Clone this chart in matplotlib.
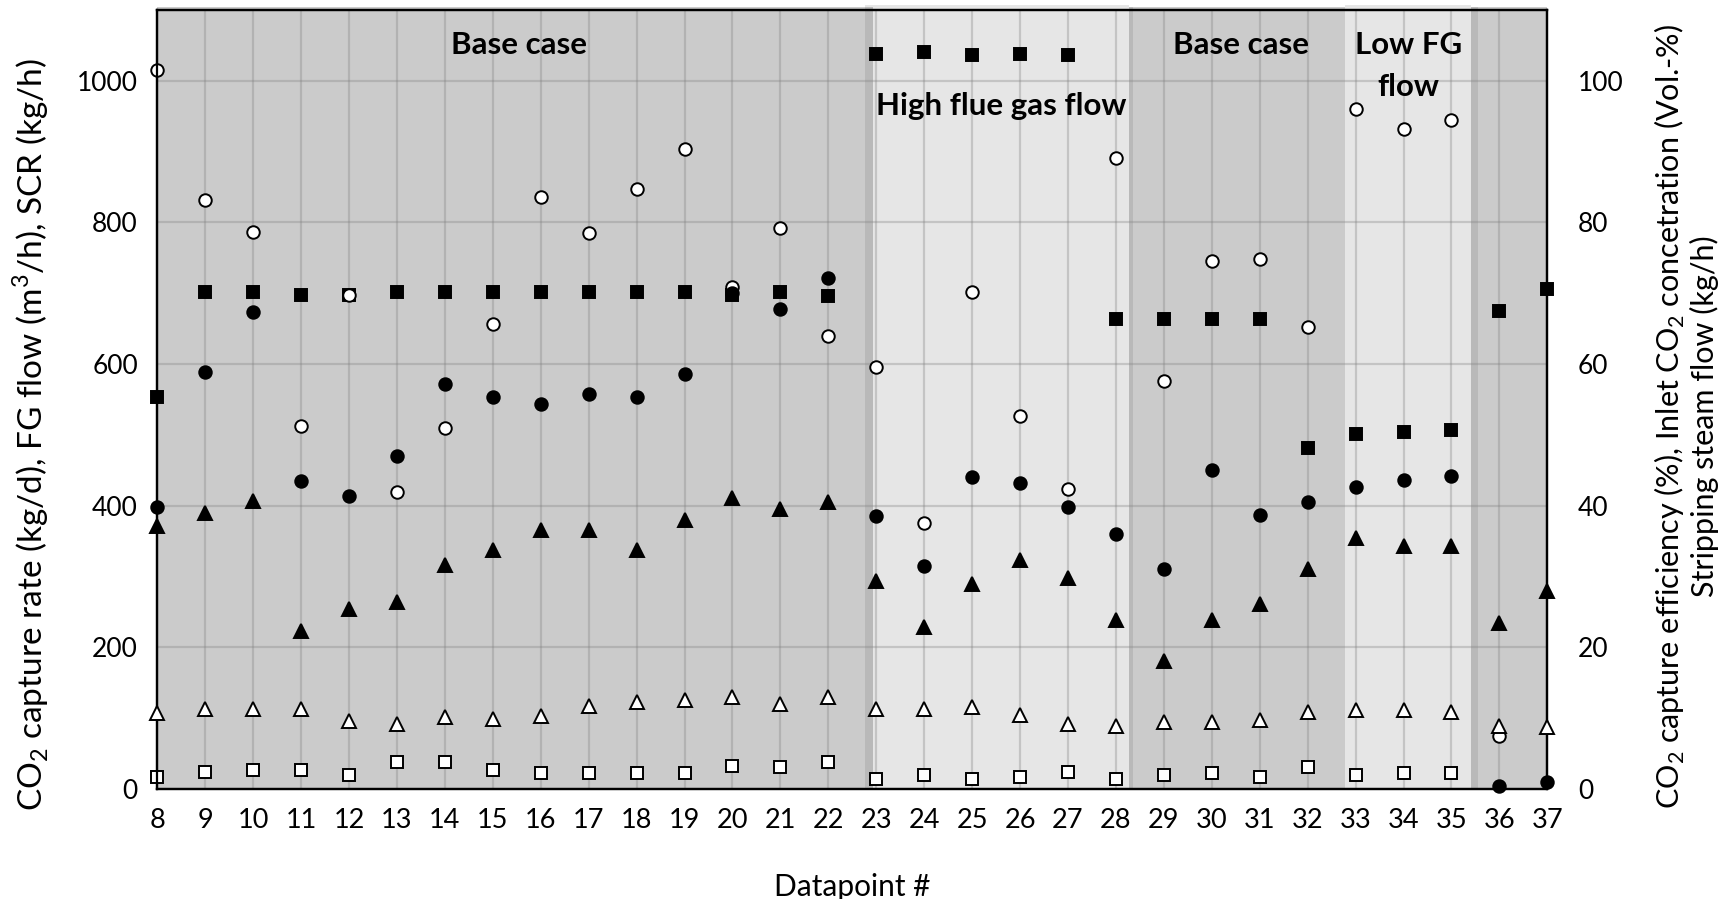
import numpy as np
import matplotlib
matplotlib.use("Agg")
import matplotlib.pyplot as plt

plt.rcParams['font.family'] = ['Lato', 'DejaVu Sans']
plt.rcParams['mathtext.fontset'] = 'custom'
plt.rcParams['mathtext.rm'] = 'Lato'

# ---------------- data ----------------
datapoints = list(range(8, 38))

# left axis series
capture_rate = [1015, 831, 787, 512, 697, 419, 509, 657, 836, 785, 847, 903, 709, 792, 639,
                595, 375, 701, 527, 424, 891, 576, 746, 748, 652, 960, 932, 945, 75, np.nan]
fg_flow = [554, 701, 701, 698, 698, 701, 701, 701, 701, 701, 701, 701, 698, 701, 696,
           1038, 1040, 1036, 1038, 1036, 663, 663, 663, 663, 481, 501, 504, 507, 675, 706]
scr = [17, 24, 27, 27, 19, 37, 37, 27, 22, 22, 22, 22, 32, 30, 37,
       14, 20, 14, 17, 23, 14, 20, 22, 17, 30, 20, 22, 22, np.nan, np.nan]

# right axis series
capture_eff = [39.8, 58.9, 67.3, 43.4, 41.4, 47.0, 57.1, 55.3, 54.3, 55.8, 55.3, 58.6, 70.0, 67.7, 72.2,
               38.5, 31.5, 44.0, 43.2, 39.8, 36.0, 31.0, 45.0, 38.7, 40.5, 42.6, 43.6, 44.2, 0.4, 0.9]
inlet_co2 = [10.7, 11.2, 11.2, 11.2, 9.6, 9.1, 10.1, 9.9, 10.2, 11.7, 12.2, 12.5, 13.0, 12.0, 13.0,
             11.3, 11.3, 11.5, 10.4, 9.2, 8.9, 9.4, 9.4, 9.7, 10.8, 11.1, 11.1, 10.8, 8.9, 8.7]
steam_flow = [37.1, 38.9, 40.7, 22.3, 25.4, 26.4, 31.6, 33.7, 36.6, 36.6, 33.7, 38.0, 41.0, 39.5, 40.5,
              29.4, 22.9, 28.9, 32.3, 29.7, 23.8, 18.0, 23.8, 26.1, 31.0, 35.4, 34.3, 34.3, 23.4, 27.9]

# shaded regions (x-ranges, in datapoint units)
dark_regions = [(8, 22.77), (28.27, 32.78), (35.41, 37)]
light_regions = [(22.77, 28.27), (32.78, 35.41)]
edge_strips = [(22.77, 22.93), (28.27, 28.36), (35.41, 35.56)]

labels = [("Base case", 15.55, 1051), ("High flue gas flow", 25.6, 965),
          ("Base case", 30.6, 1051), ("Low FG\nflow", 34.1, 1021)]

# ---------------- figure ----------------
fig = plt.figure(figsize=(17.25, 8.99), dpi=100)
ax = fig.add_axes([0.0912, 0.1227, 0.8058, 0.8662])
ax2 = ax.twinx()

YMAX = 1100
ax.set_xlim(8, 37)
ax.set_ylim(0, YMAX)
ax2.set_ylim(0, YMAX / 10)

for a, b in dark_regions:
    ax.axvspan(a, b, ymin=0, ymax=1.004, color='#cbcbcb', lw=0, zorder=0, clip_on=False)
for a, b in light_regions:
    ax.axvspan(a, b, ymin=0, ymax=1.006, color='#e6e6e6', lw=0, zorder=0, clip_on=False)
for a, b in edge_strips:
    ax.axvspan(a, b, ymin=0, ymax=1.004, color='#b9b9b9', lw=0, zorder=0.5, clip_on=False)

ax.set_xticks(datapoints)
ax.set_yticks(np.arange(0, 1001, 200))
ax2.set_yticks(np.arange(0, 101, 20))
ax.grid(True, color='#808080', alpha=0.33, lw=1.6, zorder=1)
ax.set_axisbelow(True)

ax.tick_params(axis='x', length=0, labelsize=19.5, pad=14)
ax.tick_params(axis='y', length=0, labelsize=19, pad=14)
ax2.tick_params(axis='y', length=0, labelsize=19, pad=22)

for s in ['left', 'right', 'top', 'bottom']:
    for a_ in (ax, ax2):
        a_.spines[s].set_linewidth(1.6)
        a_.spines[s].set_color('black')

ms = 9
kw = dict(linestyle='none', clip_on=False, markeredgecolor='black', markeredgewidth=1.4)
ax2.plot(datapoints, capture_eff, marker='o', markersize=ms, color='black', zorder=3, **kw)
ax2.plot(datapoints, steam_flow, marker='^', markersize=ms + 1, color='black', zorder=3, **kw)
ax2.plot(datapoints, inlet_co2, marker='^', markersize=ms + 1, color='black',
         markerfacecolor='white', zorder=3, **kw)
ax.plot(datapoints, fg_flow, marker='s', markersize=ms, color='black', zorder=3, **kw)
ax.plot(datapoints, scr, marker='s', markersize=ms, color='black', markerfacecolor='white', zorder=3, **kw)
ax.plot(datapoints, capture_rate, marker='o', markersize=ms, color='black',
        markerfacecolor='white', zorder=4, **kw)
ax2.set_zorder(ax.get_zorder() + 1)
ax2.patch.set_visible(False)

for txt, x, y in labels:
    ax.text(x, y, txt, ha='center', va='center', fontsize=22.5, fontweight='bold', zorder=5,
            linespacing=1.6)

ax.set_xlabel("Datapoint #", fontsize=21.5)
ax.xaxis.set_label_coords(0.5, -0.1085)
ax.set_ylabel(r"CO$_2$ capture rate (kg/d), FG flow (m$^3$/h), SCR (kg/h)", fontsize=24,
              rotation=90, va='center', ha='center')
ax2.set_ylabel("CO$_2$ capture efficiency (%), Inlet CO$_2$ concetration (Vol.-%)\nStripping steam flow (kg/h)",
               fontsize=22, rotation=90, va='center', ha='center', linespacing=1.1)
ax.yaxis.set_label_coords(-0.0909, 0.455)
ax2.yaxis.set_label_coords(1.0998, 0.478)

fig.savefig("out.png", dpi=100)
